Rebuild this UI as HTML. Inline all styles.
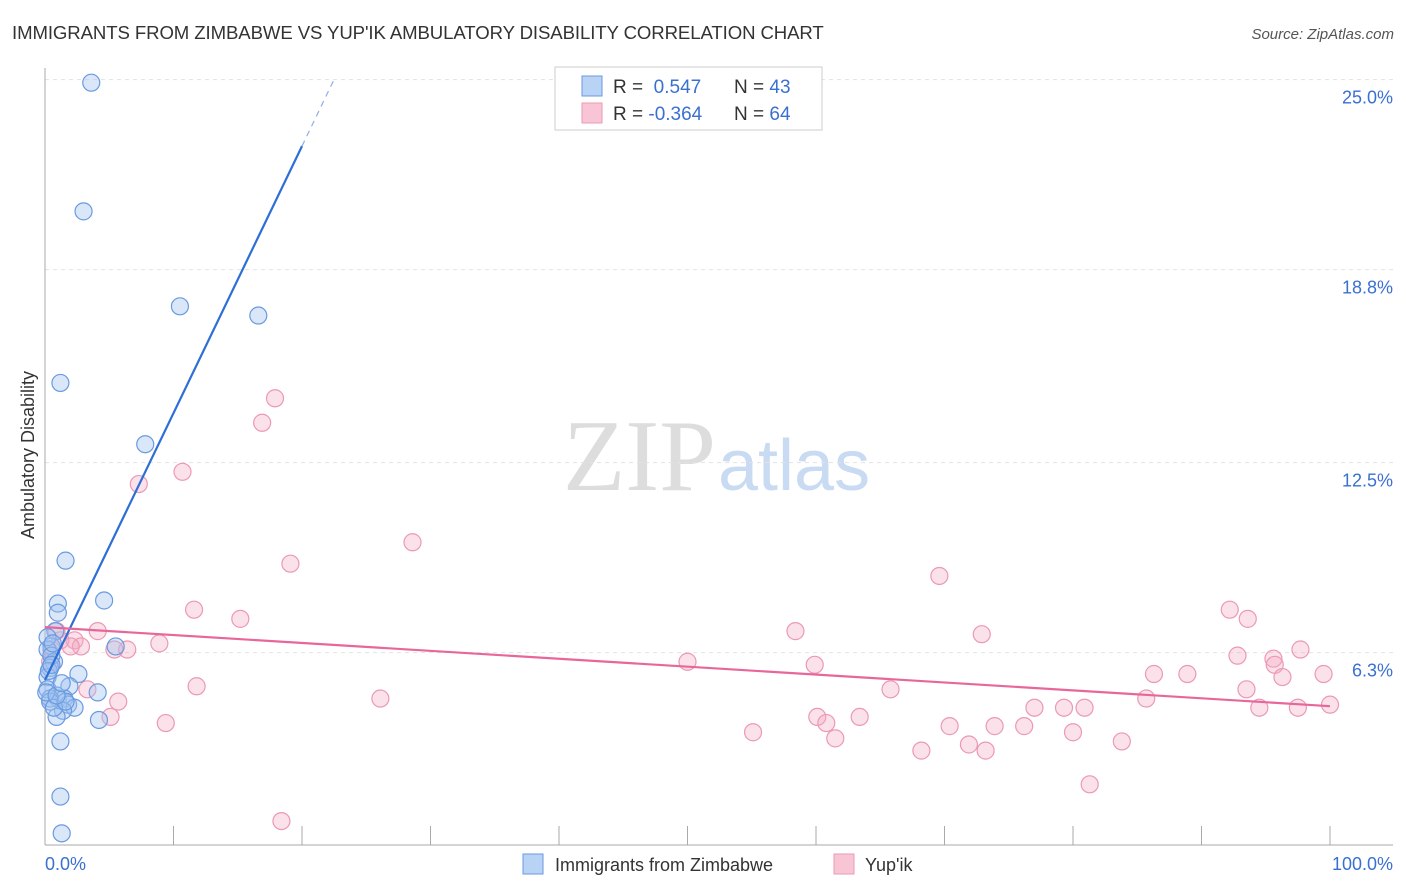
<!DOCTYPE html>
<html><head><meta charset="utf-8"><style>
body{margin:0;background:#fff;font-family:"Liberation Sans",sans-serif;}
svg{display:block}
</style></head><body>
<svg id="c" width="1406" height="892">
<text x="12" y="39" font-size="18.6" fill="#333" letter-spacing="-0.1">IMMIGRANTS FROM ZIMBABWE VS YUP'IK AMBULATORY DISABILITY CORRELATION CHART</text>
<text x="1394" y="39" font-size="15" fill="#555" text-anchor="end" font-style="italic">Source: ZipAtlas.com</text>
<text x="716" y="490" font-size="102" fill="#ddd" text-anchor="end" font-family="Liberation Serif">ZIP</text>
<text x="718" y="490" font-size="72" fill="#c9dbf2">atlas</text>
<text transform="translate(34,455) rotate(-90)" font-size="18" fill="#333" text-anchor="middle">Ambulatory Disability</text>
<g id="grid"></g><g id="pts"></g><g id="lines"></g>
<g>
<rect x="555" y="67" width="267" height="63" fill="#fff" stroke="#ccc"/>
<rect x="582" y="76" width="20" height="20" fill="#b8d3f5" stroke="#6a9ae0"/>
<rect x="582" y="103" width="20" height="20" fill="#f8c5d5" stroke="#ea9ab4"/>
<text x="613" y="93" font-size="19" fill="#333">R = <tspan fill="#3a70d0">&#160;0.547</tspan></text>
<text x="734" y="93" font-size="19" fill="#333">N = <tspan fill="#3a70d0">43</tspan></text>
<text x="613" y="120" font-size="19" fill="#333">R = <tspan fill="#3a70d0">-0.364</tspan></text>
<text x="734" y="120" font-size="19" fill="#333">N = <tspan fill="#3a70d0">64</tspan></text>
</g>
<g>
<rect x="523" y="854" width="20" height="20" fill="#b8d3f5" stroke="#6a9ae0"/>
<text x="555" y="871" font-size="18" fill="#333">Immigrants from Zimbabwe</text>
<rect x="834" y="854" width="20" height="20" fill="#f8c5d5" stroke="#ea9ab4"/>
<text x="865" y="871" font-size="18" fill="#333">Yup'ik</text>
</g>
</svg>
<script>
const yTicks=[25.0,18.8,12.5,6.3];
const yTickLabels=["25.0%","18.8%","12.5%","6.3%"];
const xTicks=[0,10,20,30,40,50,60,70,80,90,100];
const blueX=[3.6,3.0,10.5,16.6,1.2,7.8,1.6,4.6,1.0,1.0,0.8,5.5,0.5,0.2,0.7,2.6,0.4,0.2,1.9,0.2,1.0,4.1,1.5,0.4,1.8,2.3,1.4,0.9,4.2,1.2,1.2,1.3,0.2,0.5,0.4,0.7,0.1,1.6,0.9,1.3,0.3,0.5,0.6];
const blueY=[24.9,20.7,17.6,17.3,15.1,13.1,9.3,8.0,7.9,7.6,7.0,6.5,6.5,6.4,6.0,5.6,5.8,5.5,5.2,5.1,4.8,5.0,4.8,4.8,4.6,4.5,4.4,4.2,4.1,3.4,1.6,0.4,6.8,6.2,4.7,4.5,5.0,4.7,4.9,5.3,5.7,5.9,6.6];
const pinkX=[17.9,16.9,10.7,7.3,28.6,19.1,69.6,11.6,92.2,15.2,93.6,58.4,4.1,72.9,0.9,2.3,8.9,2.8,6.4,5.4,97.7,92.8,95.6,50.0,59.9,95.7,86.3,88.9,96.3,99.5,3.3,11.8,65.8,93.5,26.1,85.7,5.7,77.0,79.3,80.9,94.5,97.5,100,60.1,63.4,5.1,9.4,60.8,70.4,73.9,76.2,55.1,80.0,61.5,71.9,83.8,68.2,73.2,81.3,18.4,0.4,0.5,1.2,2.0];
const pinkY=[14.6,13.8,12.2,11.8,9.9,9.2,8.8,7.7,7.7,7.4,7.4,7.0,7.0,6.9,7.0,6.7,6.6,6.5,6.4,6.4,6.4,6.2,6.1,6.0,5.9,5.9,5.6,5.6,5.5,5.6,5.1,5.2,5.1,5.1,4.8,4.8,4.7,4.5,4.5,4.5,4.5,4.5,4.6,4.2,4.2,4.2,4.0,4.0,3.9,3.9,3.9,3.7,3.7,3.5,3.3,3.4,3.1,3.1,2.0,0.8,6.0,6.4,6.7,6.5];
const blueTrend=[5.4,22.83,25.07];const blueTrendX=[0,20,22.57];
const pinkTrend=[7.13,4.55];const pinkTrendX=[0,100];
const X=v=>45+v*12.85, Y=v=>845.6-v*30.64;
const NS="http://www.w3.org/2000/svg";
function mk(tag,attrs,parent){const e=document.createElementNS(NS,tag);for(const k in attrs)e.setAttribute(k,attrs[k]);document.getElementById(parent).appendChild(e);return e;}
yTicks.forEach((t,i)=>{
 const l=mk('line',{x1:45,x2:1393,y1:Y(t),y2:Y(t),stroke:'#e2e2e2','stroke-dasharray':'4,4'},'grid');
 
 
 const tx=mk('text',{x:1393,y:Y(t)+24,'font-size':18,fill:'#3a70d0','text-anchor':'end'},'grid');
 tx.textContent=yTickLabels[i];
 
 
});
const ax=mk('line',{x1:45,x2:45,y1:68,y2:845,stroke:'#aaa'},'grid');


const bx=mk('line',{x1:45,x2:1393,y1:845,y2:845,stroke:'#aaa'},'grid');


xTicks.forEach(t=>{if(t===0)return;
 const l=mk('line',{x1:X(t),x2:X(t),y1:826,y2:845,stroke:'#aaa'},'grid');
 
 
});
const x0=mk('text',{x:45,y:870,'font-size':18,fill:'#3a70d0'},'grid');x0.textContent='0.0%';


const x1=mk('text',{x:1393,y:870,'font-size':18,fill:'#3a70d0','text-anchor':'end'},'grid');x1.textContent='100.0%';


pinkX.forEach((v,i)=>{const c=mk('circle',{cx:X(v),cy:Y(pinkY[i]),r:8.5,fill:'rgba(244,170,195,0.35)',stroke:'#eb99b4','stroke-width':1.2},'pts');
 
 });
blueX.forEach((v,i)=>{const c=mk('circle',{cx:X(v),cy:Y(blueY[i]),r:8.5,fill:'rgba(160,195,240,0.4)',stroke:'#6a9ae0','stroke-width':1.2},'pts');
 
 });
const bt=mk('line',{x1:X(blueTrendX[0]),y1:Y(blueTrend[0]),x2:X(blueTrendX[1]),y2:Y(blueTrend[1]),stroke:'#2d6fd6','stroke-width':2.2},'lines');


const bd=mk('line',{x1:X(blueTrendX[1]),y1:Y(blueTrend[1]),x2:X(blueTrendX[2]),y2:Y(blueTrend[2]),stroke:'#8ab0e8','stroke-width':1.2,'stroke-dasharray':'6,5'},'lines');


const pt=mk('line',{x1:X(pinkTrendX[0]),y1:Y(pinkTrend[0]),x2:X(pinkTrendX[1]),y2:Y(pinkTrend[1]),stroke:'#e8679a','stroke-width':2.2},'lines');


</script>
</body></html>
